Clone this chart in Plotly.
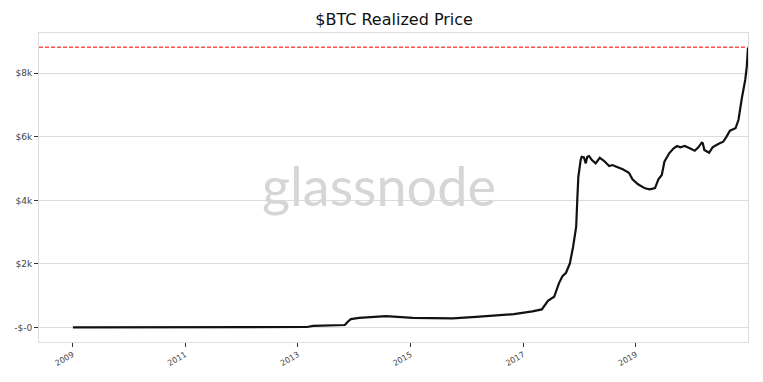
import plotly.graph_objects as go

dates = [
    "2009-01-03", "2010-01-01", "2010-07-01", "2011-01-01", "2011-07-01", "2012-01-01",
    "2012-07-01", "2012-12-01", "2013-03-01", "2013-04-10", "2013-06-01", "2013-09-01",
    "2013-11-01", "2013-11-20", "2013-12-10", "2014-02-01", "2014-07-25", "2015-01-15",
    "2015-10-01", "2016-03-01", "2016-06-01", "2016-11-01", "2017-03-01", "2017-05-01",
    "2017-06-10", "2017-07-20", "2017-08-20", "2017-09-12", "2017-10-05", "2017-10-30",
    "2017-11-20", "2017-12-10", "2017-12-17", "2017-12-24", "2018-01-08", "2018-01-15",
    "2018-01-29", "2018-02-10", "2018-02-20", "2018-03-03", "2018-03-22", "2018-04-15",
    "2018-05-12", "2018-06-08", "2018-07-12", "2018-08-03", "2018-08-28", "2018-10-08",
    "2018-11-17", "2018-12-10", "2019-01-15", "2019-03-01", "2019-04-01", "2019-05-05",
    "2019-05-27", "2019-06-18", "2019-07-05", "2019-08-05", "2019-09-03", "2019-09-25",
    "2019-10-16", "2019-11-14", "2019-12-16", "2020-01-18", "2020-02-10", "2020-03-03",
    "2020-03-10", "2020-03-20", "2020-04-20", "2020-05-12", "2020-06-18", "2020-07-20",
    "2020-08-08", "2020-09-02", "2020-10-08", "2020-10-27", "2020-11-18", "2020-12-10",
    "2020-12-20", "2020-12-28",
]
realized_price = [
    0, 0.1, 0.1, 0.5, 3, 4,
    5, 8, 12, 45, 55, 60,
    75, 180, 260, 300, 355, 300,
    283, 330, 356, 419, 503, 567,
    838, 964, 1386, 1616, 1720, 2016,
    2539, 3169, 4010, 4744, 5270, 5374,
    5355, 5166, 5374, 5396, 5270, 5166,
    5340, 5248, 5081, 5112, 5059, 4977,
    4870, 4662, 4505, 4379, 4347, 4388,
    4662, 4797, 5216, 5481, 5639, 5711,
    5670, 5711, 5639, 5563, 5670, 5815,
    5796, 5585, 5500, 5670, 5774, 5846,
    5985, 6193, 6269, 6530, 7214, 7790,
    8210, 8820,
]

y_tick_vals = [0, 2000, 4000, 6000, 8000]
y_tick_text = ["-$-0", "$2k", "$4k", "$6k", "$8k"]
x_tick_vals = ["2009-01-01", "2011-01-01", "2013-01-01", "2015-01-01", "2017-01-01", "2019-01-01"]
x_tick_text = ["2009", "2011", "2013", "2015", "2017", "2019"]

current = max(realized_price)

fig = go.Figure()
fig.add_trace(go.Scatter(
    x=dates, y=realized_price, mode="lines",
    line=dict(color="#111111", width=2.2),
    showlegend=False, hoverinfo="skip",
))
fig.add_hline(y=current, line=dict(color="#ff4f4f", width=1.4, dash="4px,2px"), opacity=1)

fig.add_annotation(
    text="glassnode", x=0.4795, y=0.505, xref="paper", yref="paper",
    showarrow=False, font=dict(family="Lato", size=54, color="#d6d6d6"),
)

fig.update_layout(
    width=763, height=382,
    margin=dict(l=31, r=23, t=25, b=48),
    paper_bgcolor="white", plot_bgcolor="white",
    title=dict(text="$BTC Realized Price", x=0.506, xanchor="center", y=0.969, yanchor="middle",
               font=dict(family="DejaVu Sans", size=16, color="#111111")),
    font=dict(family="DejaVu Sans", size=9, color="#444444"),
)
fig.update_xaxes(
    range=["2008-05-28", "2020-12-28"], automargin=False,
    tickvals=x_tick_vals, ticktext=x_tick_text, tickangle=-30,
    ticks="outside", ticklen=4, tickcolor="#333333",
    showgrid=False, zeroline=False,
    showline=True, linecolor="#dddddd", linewidth=1, mirror=True,
    tickfont=dict(size=8, color="#444444"),
)
fig.update_yaxes(
    range=[-460, 9270], automargin=False,
    tickvals=y_tick_vals, ticktext=y_tick_text,
    ticks="outside", ticklen=4, tickcolor="#333333",
    showgrid=True, gridcolor="#dcdcdc", gridwidth=1, zeroline=False,
    showline=True, linecolor="#dddddd", linewidth=1, mirror=True,
    tickfont=dict(size=9, color="#444444"),
)

fig.write_html("out.html")
